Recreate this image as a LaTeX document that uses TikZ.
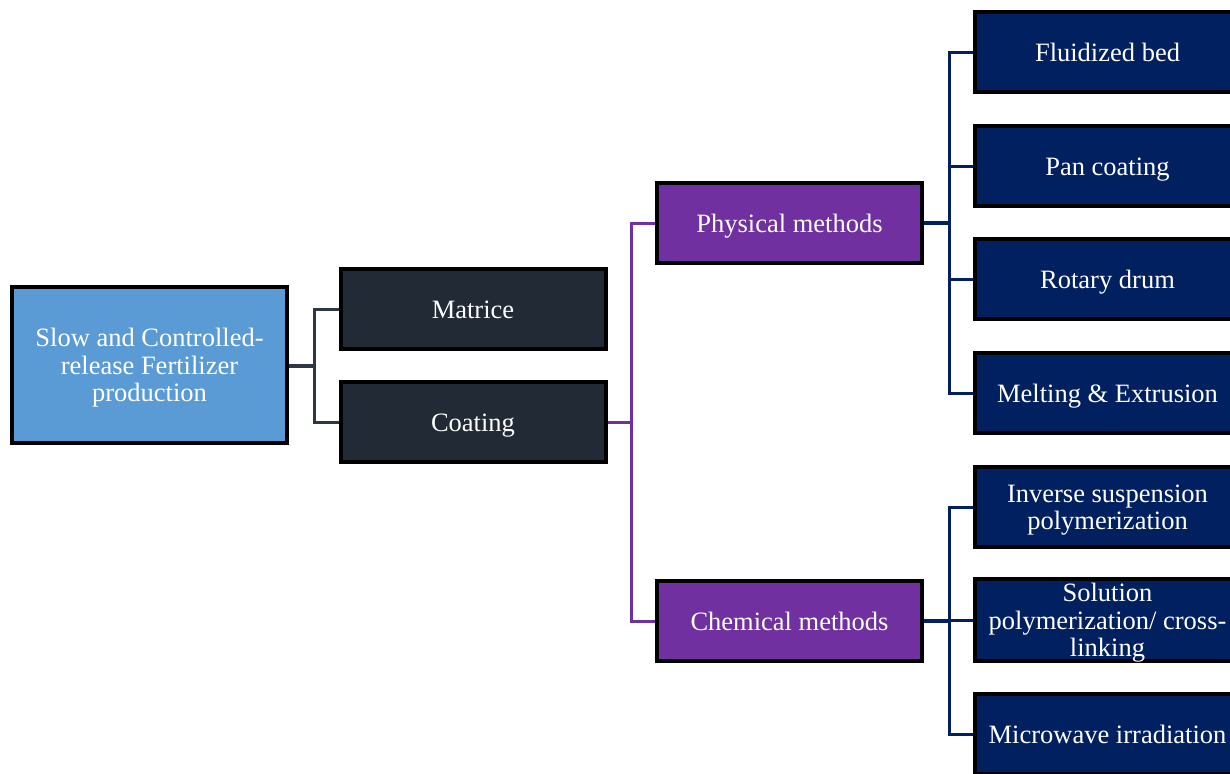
\documentclass[tikz,border=0pt]{standalone}
\usepackage{fontspec}
\setmainfont{Liberation Serif}
\definecolor{rootblue}{HTML}{5B9BD5}
\definecolor{darkbox}{HTML}{222A35}
\definecolor{purplebox}{HTML}{7030A0}
\definecolor{navybox}{HTML}{002060}
\definecolor{darkline}{HTML}{2E3744}
\newcommand{\boxtxt}[1]{\raisebox{-3.5pt}[\height][\depth]{\begin{tabular}{@{}c@{}}#1\end{tabular}}}
\begin{document}
\begin{tikzpicture}[x=1pt,y=-1pt,
  box/.style={draw=black, line width=4pt, text=white, align=center, inner sep=0pt,
    font=\fontsize{26.5}{27.5}\selectfont, minimum width=265pt, minimum height=80pt},
  rootbox/.style={box, fill=rootblue, minimum width=275pt, minimum height=156pt},
  darkbx/.style={box, fill=darkbox},
  purplebx/.style={box, fill=purplebox},
  navybx/.style={box, fill=navybox},
  dline/.style={draw=darkline, line width=3pt},
  dlinethick/.style={draw=darkline, line width=4.5pt},
  pline/.style={draw=purplebox, line width=3pt},
  nline/.style={draw=navybox, line width=3pt},
  nlinethick/.style={draw=navybox, line width=4.5pt}]
\useasboundingbox (0,0) rectangle (1230,773);
\clip (0,0) rectangle (1230,773);

\node[rootbox] (root) at (149.5,365) {\boxtxt{Slow and Controlled-\\release Fertilizer\\production}};
\node[darkbx] (mat) at (473,309) {\boxtxt{Matrice}};
\node[darkbx] (coat) at (473,422) {\boxtxt{Coating}};
\node[purplebx] (phys) at (789.5,223) {\boxtxt{Physical methods}};
\node[purplebx] (chem) at (789.5,621) {\boxtxt{Chemical methods}};

\node[navybx] (fb) at (1107.5,52.5) {\boxtxt{Fluidized bed}};
\node[navybx] (pan) at (1107.5,166) {\boxtxt{Pan coating}};
\node[navybx] (rot) at (1107.5,279) {\boxtxt{Rotary drum}};
\node[navybx] (melt) at (1107.5,393) {\boxtxt{Melting \& Extrusion}};
\node[navybx] (inv) at (1107.5,507) {\boxtxt{Inverse suspension\\polymerization}};
\node[navybx] (sol) at (1107.5,620) {\boxtxt{Solution\\polymerization/ cross-\\linking}};
\node[navybx] (mic) at (1107.5,734) {\boxtxt{Microwave irradiation}};

% root connectors
\coordinate (j1) at (314,366);
\draw[dlinethick] (root.east |- j1) -- (j1);
\draw[dline] (j1) |- (mat.west);
\draw[dline] (j1) |- (coat.west);

% coating connectors
\coordinate (j2) at (631,422);
\draw[pline] (coat.east) -- (j2);
\draw[pline] (j2) |- (phys.west);
\draw[pline] (j2) |- (chem.west);

% physical connectors
\coordinate (j3) at (949,223);
\draw[nlinethick] (phys.east) -- (j3);
\draw[nline] (j3) |- (fb.west);
\draw[nline] (j3) |- (pan.west);
\draw[nline] (j3) |- (rot.west);
\draw[nline] (j3) |- (melt.west);

% chemical connectors
\coordinate (j4) at (949,621);
\draw[nlinethick] (chem.east) -- (j4);
\draw[nline] (j4) |- (inv.west);
\draw[nline] (j4) |- (sol.west);
\draw[nline] (j4) |- (mic.west);
\end{tikzpicture}
\end{document}
